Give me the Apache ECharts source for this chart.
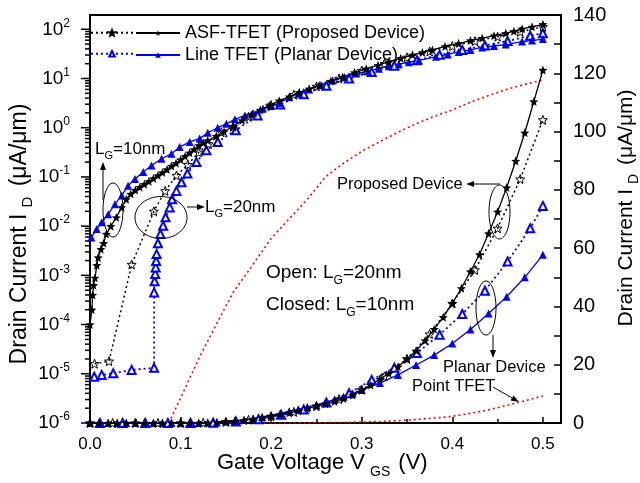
<!DOCTYPE html>
<html><head><meta charset="utf-8">
<script src="https://cdn.jsdelivr.net/npm/echarts@6/dist/echarts.min.js"></script>
<style>html,body{margin:0;padding:0;background:#fff}#c{width:640px;height:483px}</style>
</head><body><div id="c"></div>
<script>
const FONT = '"Liberation Sans", Arial, Helvetica, sans-serif';

// ---- tick labels ----
const leftTickExps = [-6, -5, -4, -3, -2, -1, 0, 1, 2];
const leftMinorMults = [2, 3, 4, 5, 6, 7, 8, 9];
const rightTicks = [0, 20, 40, 60, 80, 100, 120, 140];
const xTicks = [0.0, 0.1, 0.2, 0.3, 0.4, 0.5];

// ---- log-scale panel (left axis) ----
const vAsf10Log = [0, 0.002, 0.003, 0.004, 0.0055, 0.0075, 0.009, 0.012, 0.015, 0.018, 0.023, 0.029, 0.035, 0.040, 0.045, 0.050, 0.055, 0.060, 0.065, 0.070, 0.075, 0.080, 0.085, 0.090, 0.095, 0.100, 0.105, 0.110, 0.115, 0.120, 0.125, 0.130, 0.1395, 0.148, 0.158, 0.168, 0.178, 0.188, 0.198, 0.209, 0.220, 0.231, 0.242, 0.253, 0.266, 0.279, 0.292, 0.305, 0.318, 0.330, 0.343, 0.356, 0.367, 0.378, 0.392, 0.407, 0.420, 0.433, 0.446, 0.459, 0.468, 0.477, 0.488, 0.500];
const iAsf10Log = [1.0e-4, 2.0e-4, 4.0e-4, 6.3e-4, 8.9e-4, 1.6e-3, 2.3e-3, 3.4e-3, 4.5e-3, 6.9e-3, 1.0e-2, 1.5e-2, 2.4e-2, 3.5e-2, 4.5e-2, 5.4e-2, 6.2e-2, 7.1e-2, 8.1e-2, 9.3e-2, 0.107, 0.123, 0.141, 0.166, 0.19, 0.224, 0.263, 0.309, 0.363, 0.437, 0.49, 0.55, 0.676, 0.83, 1.07, 1.41, 1.82, 2.29, 2.82, 3.55, 4.27, 5.25, 6.17, 7.24, 8.9, 10.7, 13.2, 15.8, 18.6, 21.9, 25.7, 30.2, 33.9, 38.0, 44.7, 51.3, 58.9, 66.1, 74.1, 83.2, 91.2, 102, 112, 126];

const vAsf20Log = [0.005, 0.021, 0.046, 0.0705, 0.083, 0.0955, 0.108, 0.120, 0.131, 0.145, 0.158, 0.175, 0.200, 0.225, 0.250, 0.275, 0.300, 0.325, 0.350, 0.375, 0.400, 0.425, 0.450, 0.475, 0.500];
const iAsf20Log = [1.6e-5, 1.8e-5, 1.66e-3, 2.0e-2, 5.2e-2, 0.107, 0.178, 0.316, 0.468, 0.81, 1.05, 1.66, 2.88, 4.68, 6.9, 10.0, 14.5, 20.0, 26.9, 35.5, 45.7, 57.5, 70.8, 89.1, 112];

const vLine10Log = [0.0015, 0.0074, 0.0129, 0.020, 0.0275, 0.035, 0.042, 0.0496, 0.0587, 0.068, 0.079, 0.090, 0.099, 0.110, 0.121, 0.130, 0.141, 0.1505, 0.160, 0.171, 0.180, 0.191, 0.200, 0.209, 0.220, 0.231, 0.242, 0.255, 0.268, 0.281, 0.294, 0.307, 0.319, 0.330, 0.341, 0.352, 0.363, 0.382, 0.395, 0.407, 0.420, 0.433, 0.446, 0.459, 0.477, 0.488, 0.500];
const iLine10Log = [5.9e-3, 8.7e-3, 1.2e-2, 1.74e-2, 2.8e-2, 4.2e-2, 6.6e-2, 9.1e-2, 0.126, 0.17, 0.234, 0.295, 0.407, 0.513, 0.60, 0.79, 1.0, 1.2, 1.48, 1.78, 2.0, 2.45, 2.75, 3.16, 4.17, 4.9, 6.0, 7.4, 9.1, 10.7, 12.6, 14.1, 15.8, 17.8, 19.5, 21.4, 23.4, 27.5, 30.9, 34.7, 38.0, 42.7, 45.7, 49.0, 56.2, 58.9, 63.1];

const vLine20Log = [0.0047, 0.0129, 0.0257, 0.046, 0.0708, 0.0708, 0.0713, 0.072, 0.0725, 0.073, 0.0735, 0.075, 0.0778, 0.0807, 0.0834, 0.088, 0.0906, 0.0954, 0.101, 0.1075, 0.1175, 0.1285, 0.141, 0.161, 0.185, 0.21, 0.236, 0.261, 0.286, 0.311, 0.336, 0.361, 0.386, 0.411, 0.436, 0.461, 0.486, 0.500];
const iLine20Log = [8.7e-6, 9.5e-6, 1.02e-5, 1.2e-5, 1.32e-5, 4.5e-4, 7.6e-4, 1.07e-3, 1.45e-3, 1.95e-3, 2.7e-3, 4.5e-3, 6.9e-3, 1.02e-2, 1.51e-2, 2.4e-2, 3.5e-2, 5.2e-2, 7.8e-2, 0.117, 0.2, 0.347, 0.513, 0.89, 1.78, 2.95, 4.79, 7.08, 10.0, 13.5, 18.2, 23.4, 30.2, 38.0, 46.8, 57.5, 74.1, 83.2];

// ---- linear panel (right axis) ----
const vAsf10Lin = [0, 0.01, 0.02, 0.03, 0.04, 0.05, 0.06, 0.07, 0.08, 0.09, 0.10, 0.11, 0.12, 0.13, 0.14, 0.15, 0.16, 0.17, 0.18, 0.19, 0.20, 0.21, 0.22, 0.23, 0.24, 0.25, 0.26, 0.27, 0.28, 0.29, 0.30, 0.31, 0.32, 0.33, 0.34, 0.35, 0.36, 0.37, 0.38, 0.39, 0.40, 0.41, 0.42, 0.43, 0.44, 0.45, 0.46, 0.47, 0.48, 0.49, 0.50];
const iAsf10Lin = [0, 0, 0, 0, 0, 0, 0, 0, 0, 0, 0, 0, 0, 0.05, 0.2, 0.4, 0.6, 0.9, 1.3, 1.8, 2.3, 2.9, 3.5, 4.2, 5.0, 5.8, 6.6, 7.4, 8.4, 9.6, 11.2, 13.0, 15.1, 17.0, 19.3, 22.0, 24.8, 28.3, 32.2, 36.3, 41.1, 46.2, 52.0, 57.8, 65.0, 72.5, 80.8, 89.9, 99.6, 110.3, 121.1];

const vAsf20Lin = [0, 0.025, 0.05, 0.075, 0.1, 0.125, 0.15, 0.175, 0.2, 0.225, 0.25, 0.275, 0.3, 0.325, 0.35, 0.375, 0.4, 0.425, 0.45, 0.475, 0.5];
const iAsf20Lin = [0, 0, 0, 0, 0, 0.1, 0.4, 1.1, 2.3, 3.8, 5.8, 8.2, 11.5, 16.0, 22.0, 30.5, 41.0, 52.5, 66.8, 83.7, 104];

const vLine10Lin = [0, 0.01, 0.02, 0.03, 0.04, 0.05, 0.06, 0.07, 0.08, 0.09, 0.10, 0.11, 0.12, 0.13, 0.14, 0.15, 0.16, 0.17, 0.18, 0.19, 0.20, 0.21, 0.22, 0.23, 0.24, 0.25, 0.26, 0.27, 0.28, 0.29, 0.30, 0.32, 0.34, 0.36, 0.38, 0.40, 0.42, 0.44, 0.46, 0.48, 0.50];
const iLine10Lin = [0, 0, 0, 0, 0, 0, 0, 0, 0, 0, 0, 0, 0, 0.1, 0.3, 0.5, 0.8, 1.1, 1.6, 2.1, 2.7, 3.3, 4.0, 4.7, 5.5, 6.2, 7.1, 8.1, 9.0, 10.1, 11.3, 13.7, 16.5, 19.9, 23.3, 27.3, 32.1, 37.6, 43.3, 50.0, 57.7];

const vLine20Lin = [0.011, 0.036, 0.061, 0.086, 0.111, 0.136, 0.161, 0.186, 0.211, 0.236, 0.261, 0.286, 0.311, 0.336, 0.361, 0.386, 0.411, 0.436, 0.461, 0.486, 0.5];
const iLine20Lin = [0, 0, 0, 0, 0, 0.1, 0.5, 1.3, 2.8, 4.6, 7.0, 10.2, 14.8, 19.0, 24.0, 30.3, 37.4, 45.4, 55.4, 66.8, 74.5];

// ---- Point TFET (same data on both axes) ----
const vPoint = [0.087, 0.10, 0.121, 0.14, 0.158, 0.18, 0.20, 0.22, 0.24, 0.26, 0.28, 0.30, 0.32, 0.34, 0.36, 0.38, 0.40, 0.42, 0.44, 0.46, 0.48, 0.50];
const iPoint = [1.0e-6, 3.2e-6, 2.2e-5, 1.05e-4, 4.5e-4, 1.66e-3, 5.6e-3, 1.41e-2, 3.5e-2, 0.1, 0.19, 0.33, 0.52, 0.81, 1.2, 1.7, 2.3, 3.3, 4.5, 6.0, 7.6, 9.3];

const BLUE = '#0000ff', BLACK = '#000000', RED = '#ff0000';
const STAR = 'path://M0,-10L2.6,-3.4L9.511,-3.09L4.2,1.4L5.878,8.09L0,4.3L-5.878,8.09L-4.2,1.4L-9.511,-3.09L-2.6,-3.4Z';
const DOT = [2, 3];

function pairs(v, i) { return v.map((x, k) => [x, i[k]]); }

function curve(name, yIdx, v, i, kind) {
  const s = {
    type: 'line', name: name, xAxisIndex: 0, yAxisIndex: yIdx,
    data: pairs(v, i), animation: false, clip: true, z: 3
  };
  if (kind === 'asf10') {
    Object.assign(s, { symbol: STAR, symbolSize: 9, itemStyle: { color: BLACK, borderWidth: 0 },
      lineStyle: { color: BLACK, width: 1.3, type: 'solid' } });
  } else if (kind === 'asf20') {
    Object.assign(s, { symbol: STAR, symbolSize: 9, itemStyle: { color: 'rgba(255,255,255,0)', borderColor: BLACK, borderWidth: 1 },
      lineStyle: { color: BLACK, width: 1.5, type: DOT } });
  } else if (kind === 'line10') {
    Object.assign(s, { symbol: 'triangle', symbolSize: 8, itemStyle: { color: BLUE, borderWidth: 0 },
      lineStyle: { color: BLUE, width: 1.3, type: 'solid' } });
  } else if (kind === 'line20') {
    Object.assign(s, { symbol: 'emptyTriangle', symbolSize: 8, itemStyle: { color: BLUE, borderWidth: 1 },
      lineStyle: { color: BLUE, width: 1.8, type: DOT } });
  } else if (kind === 'point') {
    Object.assign(s, { symbol: 'none', lineStyle: { color: RED, width: 1.6, type: DOT } });
  }
  return s;
}

// left (log) axis tick marks through the axis scale
const leftTickData = [];
leftTickExps.forEach(e => {
  leftTickData.push([0, Math.pow(10, e), 9]);
  if (e < 2) leftMinorMults.forEach(m => leftTickData.push([0, m * Math.pow(10, e), 5]));
});

const series = [
  {
    type: 'custom', name: 'ticks', xAxisIndex: 0, yAxisIndex: 0, silent: true, clip: false, z: 5,
    data: leftTickData, encode: { x: 0, y: 1 },
    renderItem: function (params, api) {
      const p = api.coord([0, api.value(1)]);
      const len = api.value(2);
      return { type: 'line', shape: { x1: p[0] - len, y1: p[1], x2: p[0], y2: p[1] },
        style: { stroke: '#000', lineWidth: 1.5 } };
    }
  },
  curve('Point TFET', 0, vPoint, iPoint, 'point'),
  curve('Point TFET', 1, vPoint, iPoint, 'point'),
  curve('Line TFET 20nm', 0, vLine20Log, iLine20Log, 'line20'),
  curve('Line TFET 20nm', 1, vLine20Lin, iLine20Lin, 'line20'),
  curve('Line TFET (Planar Device)', 0, vLine10Log, iLine10Log, 'line10'),
  curve('Line TFET (Planar Device)', 1, vLine10Lin, iLine10Lin, 'line10'),
  curve('ASF-TFET 20nm', 0, vAsf20Log, iAsf20Log, 'asf20'),
  curve('ASF-TFET 20nm', 1, vAsf20Lin, iAsf20Lin, 'asf20'),
  curve('ASF-TFET (Proposed Device)', 0, vAsf10Log, iAsf10Log, 'asf10'),
  curve('ASF-TFET (Proposed Device)', 1, vAsf10Lin, iAsf10Lin, 'asf10')
];

function legendBox(name, left, top, withText) {
  return {
    data: [name], left: left, top: top, padding: 0, orient: 'horizontal',
    itemWidth: withText ? 44 : 42, itemHeight: 7, selectedMode: false,
    formatter: withText ? undefined : function () { return ''; },
    textStyle: { fontSize: 18, fontFamily: FONT, color: '#000' }
  };
}

const tStyle = (size) => ({ fontSize: size, fontFamily: FONT, fill: '#000' });

function txt(x, y, text, size, subSize, subPad, rot) {
  const st = Object.assign(tStyle(size), {
    text: text, align: 'left', verticalAlign: 'middle', textAlign: 'left', textVerticalAlign: 'middle',
    rich: { s: { fontSize: subSize, fontFamily: FONT, fill: '#000', padding: subPad } }
  });
  const el = { type: 'text', x: x, y: y, style: st, z: 50 };
  if (rot) { el.rotation = rot; st.align = 'center'; st.textAlign = 'center'; }
  return el;
}
function ell(cx, cy, rx, ry) {
  return { type: 'ellipse', shape: { cx: cx, cy: cy, rx: rx, ry: ry },
    style: { fill: 'none', stroke: '#000', lineWidth: 1 }, z: 50 };
}
function arrow(x1, y1, x2, y2) {
  const dx = x2 - x1, dy = y2 - y1, L = Math.sqrt(dx * dx + dy * dy);
  const ux = dx / L, uy = dy / L, h = 8, w = 3;
  const bx = x2 - ux * h, by = y2 - uy * h;
  return [
    { type: 'line', shape: { x1: x1, y1: y1, x2: bx, y2: by }, style: { stroke: '#000', lineWidth: 1 }, z: 50 },
    { type: 'polygon', shape: { points: [[x2, y2], [bx - uy * w, by + ux * w], [bx + uy * w, by - ux * w]] },
      style: { fill: '#000' }, z: 50 }
  ];
}

const graphics = [
  txt(217, 463, 'Gate Voltage V{s|GS} (V)', 22, 14, [18, 2, 0, 5]),
  txt(20, 234, 'Drain Current I{s|D} (μA/μm)', 23, 15, [16, 4, 0, 6], Math.PI / 2),
  txt(626, 208, 'Drain Current I{s|D} (μA/μm)', 21, 14, [16, 3, 0, 5], Math.PI / 2),
  txt(95, 149, 'L{s|G}=10nm', 17, 11, [14, 0, 0, 0]),
  txt(205, 207, 'L{s|G}=20nm', 17, 11, [14, 0, 0, 0]),
  txt(266, 273, 'Open: L{s|G}=20nm', 19, 12, [15, 0, 0, 0]),
  txt(266, 305, 'Closed: L{s|G}=10nm', 19, 12, [15, 0, 0, 0]),
  txt(337, 184, 'Proposed Device', 16.5, 11, [0, 0, 0, 0]),
  txt(443, 367, 'Planar Device', 16.5, 11, [0, 0, 0, 0]),
  txt(412, 386, 'Point TFET', 16.5, 11, [0, 0, 0, 0]),
  ell(113, 210, 10, 27),
  ell(161, 217.5, 26, 21),
  ell(499.5, 212, 10.5, 27),
  ell(486, 308, 10, 27)
].concat(
  arrow(103, 200, 103, 162),
  arrow(187, 207, 205, 207),
  arrow(500, 184, 466, 184),
  arrow(493, 335, 493, 358),
  arrow(493, 387, 519, 402)
);

const chart = echarts.init(document.getElementById('c'), null, { renderer: 'canvas' });
chart.setOption({
  animation: false,
  backgroundColor: '#fff',
  grid: { left: 90, right: 79, top: 15, bottom: 60, show: true, borderColor: '#000', borderWidth: 2, backgroundColor: 'rgba(0,0,0,0)' },
  legend: [
    legendBox('ASF-TFET 20nm', 90, 29, false),
    legendBox('Line TFET 20nm', 90, 50, false),
    legendBox('ASF-TFET (Proposed Device)', 135, 24, true),
    legendBox('Line TFET (Planar Device)', 135, 46, true)
  ],
  xAxis: [{
    type: 'value', min: xTicks[0], max: 0.52, interval: 0.1, position: 'bottom',
    axisLine: { show: true, onZero: false, lineStyle: { color: '#000', width: 2 } },
    axisTick: { show: true, inside: true, length: 6, lineStyle: { color: '#000', width: 1.5 } },
    minorTick: { show: true, splitNumber: 2, length: 4, lineStyle: { color: '#000', width: 1.5 } },
    axisLabel: { fontSize: 17, fontFamily: FONT, color: '#000', margin: 13, showMaxLabel: false,
      formatter: function (v) { return xTicks.some(t => Math.abs(t - v) < 1e-9) ? v.toFixed(1) : ''; } },
    splitLine: { show: false }
  }],
  yAxis: [{
    type: 'log', logBase: 10, min: Math.pow(10, leftTickExps[0]), max: 195, position: 'left',
    axisLine: { show: true, onZero: false, lineStyle: { color: '#000', width: 2 } },
    axisTick: { show: false },
    axisLabel: {
      margin: 20, showMaxLabel: false, color: '#000', fontFamily: FONT, fontSize: 19,
      formatter: function (v) {
        const e = Math.round(Math.log10(v));
        if (leftTickExps.indexOf(e) < 0 || Math.abs(Math.log10(v) - e) > 1e-6) return '';
        return '{b|10}{p|' + e + '}';
      },
      rich: { b: { fontSize: 19, fontFamily: FONT, color: '#000' },
              p: { fontSize: 12, fontFamily: FONT, color: '#000', padding: [0, 0, 12, 0] } }
    },
    splitLine: { show: false }
  }, {
    type: 'value', min: rightTicks[0], max: rightTicks[rightTicks.length - 1], interval: 20, position: 'right',
    axisLine: { show: true, onZero: false, lineStyle: { color: '#000', width: 2 } },
    axisTick: { show: true, inside: true, length: 7, lineStyle: { color: '#000', width: 1.5 } },
    minorTick: { show: true, splitNumber: 2, length: 7, lineStyle: { color: '#000', width: 1.5 } },
    axisLabel: { fontSize: 20, fontFamily: FONT, color: '#000', margin: 12 },
    splitLine: { show: false }
  }],
  graphic: graphics,
  series: series
});
</script></body></html>
